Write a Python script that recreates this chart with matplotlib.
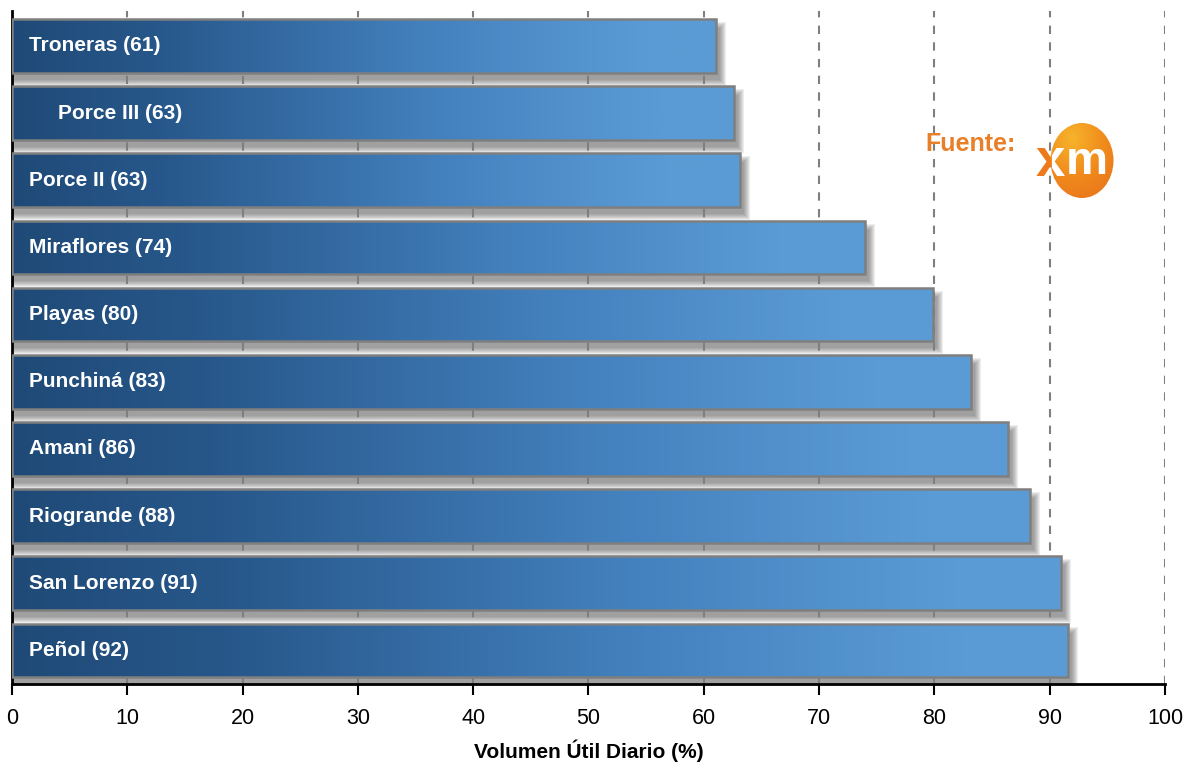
import numpy as np
import matplotlib.pyplot as plt
from matplotlib.patches import Rectangle, Ellipse
from matplotlib.colors import LinearSegmentedColormap

# Volumen util diario por embalse (%)
embalses = ['Troneras (61)', 'Porce III (63)', 'Porce II (63)', 'Miraflores (74)',
            'Playas (80)', 'Punchiná (83)', 'Amani (86)', 'Riogrande (88)',
            'San Lorenzo (91)', 'Peñol (92)']
volumen = [61.1, 62.6, 63.1, 74.0, 79.9, 83.2, 86.4, 88.3, 91.0, 91.6]
xticks = [0, 10, 20, 30, 40, 50, 60, 70, 80, 90, 100]

plt.rcParams['font.family'] = ['Liberation Sans', 'DejaVu Sans']

fig = plt.figure(figsize=(11.85, 7.69), dpi=100)
ax = fig.add_axes([0.0101, 0.1105, 0.9730, 0.8752])

n = len(embalses)
ypos = np.arange(n)[::-1]
h = 0.8
px = 100 / 1153.0     # one pixel in x data units
py = 10.02 / 673.0    # one pixel in y data units

bar_cmap = LinearSegmentedColormap.from_list(
    'bar', [(0, '#1f4a77'), (0.2, '#27578a'), (0.6, '#4482bf'), (0.9, '#5b9bd5'), (1, '#5b9bd5')])
hgrad = np.linspace(0, 1, 256).reshape(1, -1)

for y, v, lab in zip(ypos, volumen, embalses):
    # soft drop shadow
    for k in range(7):
        ax.add_patch(Rectangle((0 - k * px, y - h / 2 - (7 + k) * py),
                               v + (4 + 2 * k) * px, h + 2 * k * py - 2 * py,
                               facecolor='#404040', edgecolor='none', alpha=0.09, zorder=1))
    # gradient bar
    rect = Rectangle((0, y - h / 2), v, h, facecolor='none', edgecolor='#7f7f7f',
                     linewidth=1.8, zorder=4)
    ax.add_patch(rect)
    im = ax.imshow(hgrad, cmap=bar_cmap, aspect='auto',
                   extent=(0, v, y - h / 2, y + h / 2), zorder=3)
    im.set_clip_path(rect)
    xt = 4.0 if lab.startswith('Porce III') else 1.5
    ax.text(xt, y, lab, color='white', fontsize=15, fontweight='bold',
            va='center', ha='left', zorder=5)

for x in xticks[1:]:
    ax.axvline(x, color='#7f7f7f', linestyle=(0, (4, 4)), linewidth=1.5, zorder=2)

ax.set_xlim(0, 100)
ax.set_ylim(-0.5, 9.52)
ax.set_xticks(xticks)
ax.set_xticklabels([str(t) for t in xticks], fontsize=15.5)
ax.set_yticks([])
ax.tick_params(axis='x', direction='out', length=8, width=1.5, pad=9)
for s in ['top', 'right']:
    ax.spines[s].set_visible(False)
ax.spines['left'].set_linewidth(2)
ax.spines['bottom'].set_linewidth(2)
ax.set_xlabel('Volumen Útil Diario (%)', fontsize=15, fontweight='bold', labelpad=8)

# Fuente: XM
fig.text(925 / 1185, 1 - 144 / 769, 'Fuente:', color='#e8802a', fontsize=18,
         fontweight='bold', va='center', ha='left')
logo = fig.add_axes([1020 / 1185, 1 - 205 / 769, 100 / 1185, 90 / 769])
logo.set_xlim(1020, 1120)
logo.set_ylim(205, 115)
logo.axis('off')
circ = Ellipse((1082, 160.5), 63, 75, facecolor='none', edgecolor='none')
logo.add_patch(circ)
rg = np.linspace(0, 1, 100)
xx, yy = np.meshgrid(rg, rg)
rr = np.sqrt((xx - 0.35) ** 2 + (yy - 0.2) ** 2)
orange = LinearSegmentedColormap.from_list('o', ['#f7b32b', '#f08a1c', '#e8701a'])
im = logo.imshow(rr, cmap=orange, extent=(1050, 1114, 198, 123), origin='upper',
                 aspect='auto', zorder=2)
im.set_clip_path(circ)
logo.text(1050, 162, 'x', color='#ec7a1c', fontsize=38, fontweight='bold',
          ha='center', va='center', zorder=1)

# white part of the "x" inside the circle: a second axes starting at the circle edge
logo2 = fig.add_axes([1052 / 1185, 1 - 205 / 769, 68 / 1185, 90 / 769])
logo2.set_xlim(1052, 1120)
logo2.set_ylim(205, 115)
logo2.axis('off')
logo2.text(1050, 162, 'x', color='white', fontsize=38, fontweight='bold',
           ha='center', va='center', clip_on=True)
logo2.text(1087, 162, 'm', color='white', fontsize=34, fontweight='bold',
           ha='center', va='center')

fig.savefig('out.png', dpi=100)
